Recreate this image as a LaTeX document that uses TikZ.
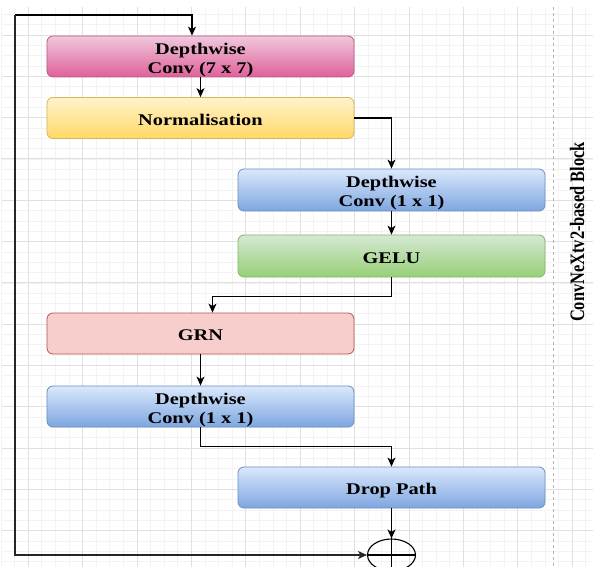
\documentclass[tikz,border=0pt]{standalone}
\usepackage{fontspec}
\setmainfont{Liberation Serif}
\usepackage{graphicx}
\usetikzlibrary{arrows.meta,shapes.geometric}
\definecolor{gminor}{HTML}{F3F3F3}
\definecolor{gmajor}{HTML}{E0E0E0}
\definecolor{pinkT}{HTML}{F0C8DC}
\definecolor{pinkBt}{HTML}{E0609A}
\definecolor{pinkS}{HTML}{B85A88}
\definecolor{yelT}{HTML}{FFF2CC}
\definecolor{yelB}{HTML}{FFD966}
\definecolor{yelS}{HTML}{D6B656}
\definecolor{bluT}{HTML}{DAE8FC}
\definecolor{bluB}{HTML}{7EA6E0}
\definecolor{bluS}{HTML}{6C8EBF}
\definecolor{grnT}{HTML}{D5E8D4}
\definecolor{grnB}{HTML}{97D077}
\definecolor{grnS}{HTML}{82B366}
\definecolor{redF}{HTML}{F8CECC}
\definecolor{redS}{HTML}{B85450}
\newcommand{\stx}[1]{\raisebox{-3.5bp}[\height][\depth]{\scalebox{1.25}[1]{\begin{tabular}{@{}c@{}}#1\end{tabular}}}}
\tikzset{
  blk/.style={rounded corners=6bp, minimum width=307bp, minimum height=41bp,
    inner sep=0pt, line width=0.8bp, font=\fontsize{16.3bp}{19bp}\selectfont\bfseries},
  pinkbox/.style={blk, draw=pinkS, top color=pinkT, bottom color=pinkBt},
  yelbox/.style={blk, draw=yelS, top color=yelT, bottom color=yelB},
  blubox/.style={blk, draw=bluS, top color=bluT, bottom color=bluB},
  grnbox/.style={blk, draw=grnS, top color=grnT, bottom color=grnB},
  redbox/.style={blk, draw=redS, fill=redF},
  arr/.style={-{Stealth[length=9bp,width=8bp,inset=2.5bp]}, line width=1.1bp},
  minorln/.style={draw=gminor, line width=0.7bp},
  majorln/.style={draw=gmajor, line width=0.8bp},
}
\begin{document}
\begin{tikzpicture}[x=1bp,y=-1bp]
\useasboundingbox (0,0) rectangle (593,567);
\fill[white] (0,0) rectangle (593,567);
% grid
\foreach \i in {0,...,43} \draw[minorln] ({1+13.6*\i},7) -- ({1+13.6*\i},567);
\foreach \j in {0,...,53} \draw[minorln] (2,{14.4+10.325*\j}) -- (593,{14.4+10.325*\j});
\foreach \i in {0,...,10} \draw[majorln] ({28.2+54.4*\i},7) -- ({28.2+54.4*\i},567);
\foreach \j in {0,...,12} \draw[majorln] (2,{35+41.3*\j}) -- (593,{35+41.3*\j});
% dashed separator
\draw[black!30, dashed, line width=0.8bp] (553,7) -- (553,567);
% label
\node[rotate=90, font=\fontsize{16.4bp}{19bp}\selectfont\bfseries] (lbl) at (577,232) {\scalebox{1}[1.25]{ConvNeXtv2-based Block}};
% boxes
\node[pinkbox] (b1) at (200.5,56.5) {\stx{Depthwise\\Conv (7 x 7)}};
\node[yelbox] (norm) at (200.5,118) {\stx{Normalisation}};
\node[blubox, minimum height=42bp] (dw1) at (391.5,190) {\stx{Depthwise\\Conv (1 x 1)}};
\node[grnbox, minimum height=42bp] (gelu) at (391.5,256) {\stx{GELU}};
\node[redbox] (grn) at (200.5,333.5) {\stx{GRN}};
\node[blubox] (dw2) at (200.5,406.5) {\stx{Depthwise\\Conv (1 x 1)}};
\node[blubox] (drop) at (391.5,487.5) {\stx{Drop Path}};
\node[ellipse, draw, line width=1.1bp, minimum width=48bp, minimum height=32bp, inner sep=0pt] (plus) at (391.5,555) {};
\draw[line width=1.1bp] (plus.north) -- (plus.south) (plus.west) -- (plus.east);
% connectors
\coordinate (tl) at (15,15);
\coordinate (bl) at (15,555);
\draw[arr] (tl) -| ([xshift=-8.5bp]b1.north);
\draw[arr, line width=1.3bp, black!85] (tl) -- (bl) -- (plus.west);
\draw[arr] (b1) -- (norm);
\draw[arr] (norm.east) -| (dw1.north);
\draw[arr] (dw1) -- (gelu);
\draw[arr] (gelu.south) -- ++(0,19.5) -| ([xshift=12bp]grn.north);
\draw[arr] (grn) -- (dw2);
\draw[arr] (dw2.south) -- ++(0,19) -| (drop.north);
\draw[arr] (drop) -- (plus);
\end{tikzpicture}
\end{document}
